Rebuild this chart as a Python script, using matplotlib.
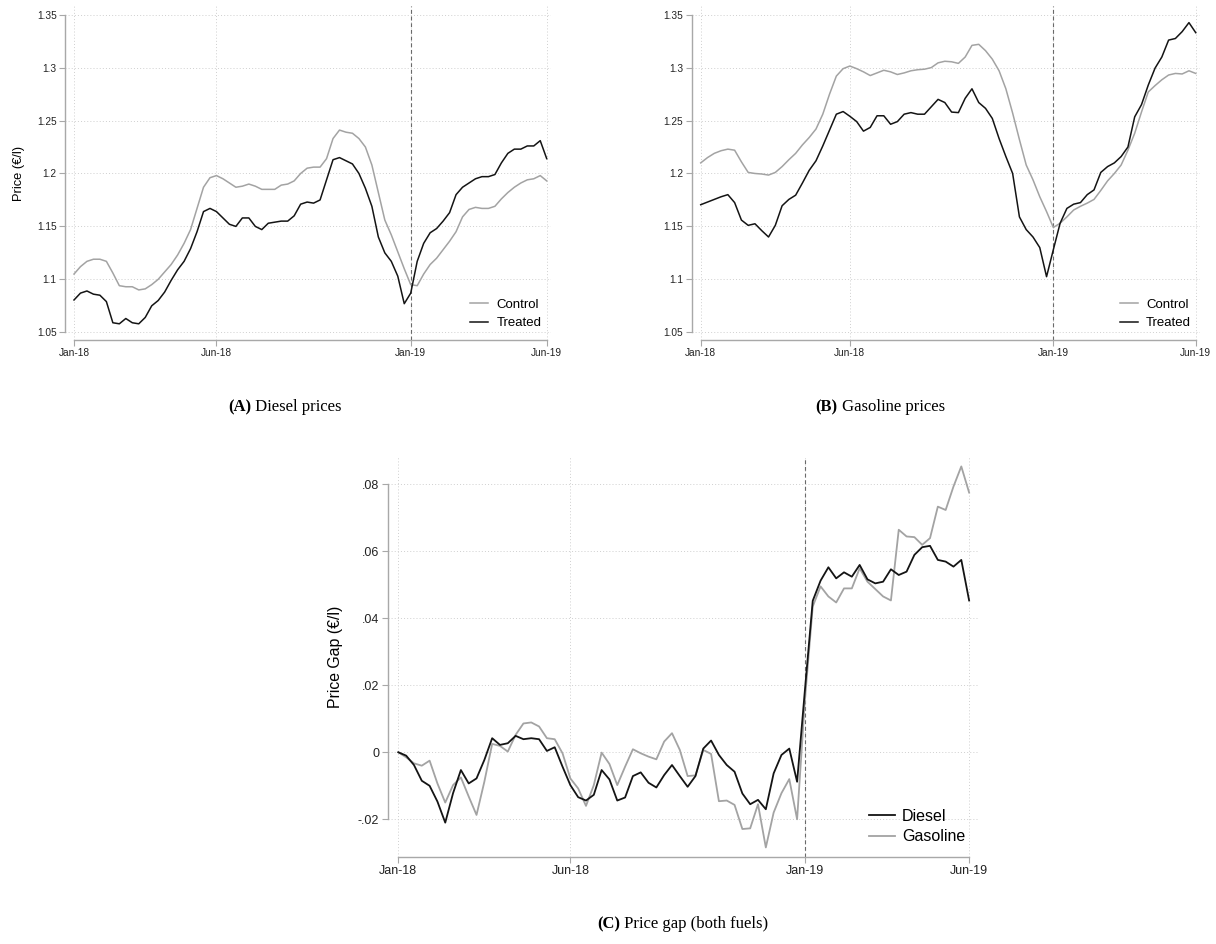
import numpy as np
import matplotlib
matplotlib.use("Agg")
import matplotlib.pyplot as plt

# ---------------- data ----------------
weeks = np.arange(74)  # weekly observations, Jan-18 .. Jun-19
xtick_pos = [0, 22, 52, 73]
xtick_labels = ["Jan-18", "Jun-18", "Jan-19", "Jun-19"]
treat_week = 52

diesel_control = [1.105, 1.112, 1.117, 1.119, 1.119, 1.117, 1.106, 1.094, 1.093, 1.093,
                  1.090, 1.091, 1.095, 1.100, 1.107, 1.114, 1.123, 1.134, 1.147, 1.167,
                  1.187, 1.196, 1.198, 1.195, 1.191, 1.187, 1.188, 1.190, 1.188, 1.185,
                  1.185, 1.185, 1.189, 1.190, 1.193, 1.200, 1.205, 1.206, 1.206, 1.214,
                  1.233, 1.241, 1.239, 1.238, 1.233, 1.225, 1.208, 1.182, 1.156, 1.142,
                  1.126, 1.110, 1.095, 1.094, 1.105, 1.114, 1.120, 1.128, 1.136, 1.145,
                  1.159, 1.166, 1.168, 1.167, 1.167, 1.169, 1.176, 1.182, 1.187, 1.191,
                  1.194, 1.195, 1.198, 1.193]
diesel_treated = [1.0805, 1.087, 1.089, 1.086, 1.085, 1.079, 1.059, 1.058, 1.063, 1.059,
                  1.058, 1.064, 1.075, 1.080, 1.088, 1.099, 1.109, 1.117, 1.129, 1.145,
                  1.164, 1.167, 1.164, 1.158, 1.152, 1.150, 1.158, 1.158, 1.150, 1.147,
                  1.153, 1.154, 1.155, 1.155, 1.160, 1.171, 1.173, 1.172, 1.175, 1.194,
                  1.213, 1.215, 1.212, 1.209, 1.200, 1.186, 1.169, 1.140, 1.125, 1.117,
                  1.103, 1.077, 1.087, 1.117, 1.134, 1.144, 1.148, 1.155, 1.163, 1.180,
                  1.187, 1.191, 1.195, 1.197, 1.197, 1.199, 1.210, 1.219, 1.223, 1.223,
                  1.226, 1.226, 1.231, 1.214]
gasoline_control = [1.210, 1.215, 1.219, 1.2215, 1.223, 1.222, 1.211, 1.201, 1.200, 1.1995,
                    1.1985, 1.201, 1.2065, 1.213, 1.219, 1.227, 1.234, 1.242, 1.256, 1.275,
                    1.292, 1.299, 1.3015, 1.299, 1.296, 1.2925, 1.295, 1.2975, 1.296, 1.2935,
                    1.295, 1.297, 1.298, 1.2985, 1.300, 1.3045, 1.306, 1.3055, 1.304, 1.310,
                    1.321, 1.322, 1.316, 1.308, 1.297, 1.280, 1.257, 1.232, 1.208, 1.194,
                    1.178, 1.164, 1.149, 1.153, 1.159, 1.1655, 1.169, 1.172, 1.1755, 1.184,
                    1.193, 1.200, 1.208, 1.222, 1.238, 1.258, 1.277, 1.283, 1.2885, 1.293,
                    1.2945, 1.294, 1.297, 1.2945]
gasoline_treated = [1.1705, 1.173, 1.1755, 1.178, 1.180, 1.1725, 1.156, 1.151, 1.1525, 1.146,
                    1.140, 1.151, 1.1695, 1.1755, 1.1795, 1.191, 1.203, 1.212, 1.226, 1.241,
                    1.256, 1.2585, 1.254, 1.249, 1.240, 1.2435, 1.2545, 1.2545, 1.2465, 1.249,
                    1.256, 1.2575, 1.256, 1.256, 1.263, 1.270, 1.267, 1.258, 1.2575, 1.271,
                    1.280, 1.267, 1.2615, 1.252, 1.233, 1.216, 1.200, 1.159, 1.147, 1.140,
                    1.130, 1.1025, 1.128, 1.153, 1.167, 1.171, 1.1725, 1.180, 1.1845, 1.201,
                    1.2065, 1.210, 1.216, 1.225, 1.2535, 1.265, 1.2835, 1.2995, 1.310, 1.326,
                    1.3275, 1.334, 1.3425, 1.333]
gap_diesel = [0.0, -0.001, -0.0038, -0.0085, -0.010, -0.0147, -0.021, -0.0122, -0.0053, -0.0093,
              -0.0078, -0.0023, 0.0042, 0.0022, 0.0027, 0.0049, 0.0039, 0.0042, 0.0039, 0.0004,
              0.0015, -0.0043, -0.0098, -0.0134, -0.0144, -0.0127, -0.0053, -0.0081, -0.0144, -0.0135,
              -0.0071, -0.006, -0.0091, -0.0105, -0.0068, -0.0038, -0.0071, -0.0103, -0.0071, 0.0011,
              0.0035, -0.0008, -0.0038, -0.0058, -0.0123, -0.0155, -0.0142, -0.017, -0.0063, -0.0008,
              0.0011, -0.0088, 0.0186, 0.0452, 0.0512, 0.0552, 0.0519, 0.0537, 0.0524, 0.0559,
              0.0516, 0.0504, 0.0509, 0.0546, 0.0529, 0.0539, 0.0589, 0.0612, 0.0616, 0.0574,
              0.0569, 0.0554, 0.0574, 0.0453]
gap_gasoline = [0.0, -0.0015, -0.0033, -0.004, -0.0025, -0.0093, -0.015, -0.0098, -0.0075, -0.0132,
                -0.0187, -0.0088, 0.0025, 0.0019, 0.0002, 0.0052, 0.0086, 0.0089, 0.0077, 0.0042,
                0.0039, -0.0003, -0.0078, -0.0108, -0.016, -0.0098, -0.0001, -0.0035, -0.0098, -0.0043,
                0.0009, -0.0003, -0.0013, -0.0021, 0.0032, 0.0057, 0.0007, -0.0071, -0.0069, 0.0007,
                -0.0005, -0.0146, -0.0144, -0.0157, -0.0229, -0.0227, -0.0155, -0.0284, -0.018, -0.0122,
                -0.008, -0.020, 0.0156, 0.0435, 0.0495, 0.0465, 0.0447, 0.0489, 0.0489, 0.0549,
                0.0509, 0.0487, 0.0465, 0.0453, 0.0664, 0.0644, 0.0642, 0.0619, 0.0639, 0.0733,
                0.0723, 0.0793, 0.0853, 0.0775]

price_ticks = [1.05, 1.10, 1.15, 1.20, 1.25, 1.30, 1.35]
price_tick_labels = ["1.05", "1.1", "1.15", "1.2", "1.25", "1.3", "1.35"]
gap_ticks = [-0.02, 0.0, 0.02, 0.04, 0.06, 0.08]
gap_tick_labels = ["-.02", "0", ".02", ".04", ".06", ".08"]

# ---------------- style ----------------
plt.rcParams['font.family'] = ['Liberation Sans', 'DejaVu Sans']
W, H = 1216, 944
fig = plt.figure(figsize=(W / 100, H / 100), dpi=100)
fig.patch.set_facecolor('white')

GREY = '#a3a3a3'
BLACK = '#141414'
SPINE = '#a8a8a8'
GRID = '#cfcfcf'


def px_axes(left, right, top, bottom):
    return fig.add_axes([left / W, 1 - bottom / H, (right - left) / W, (bottom - top) / H])


def style_axes(ax, yticks, ylabels, ybounds, tick_fs):
    for s in ['top', 'right']:
        ax.spines[s].set_visible(False)
    for s in ['left', 'bottom']:
        ax.spines[s].set_color(SPINE)
        ax.spines[s].set_linewidth(1.0)
    ax.spines['left'].set_bounds(*ybounds)
    ax.spines['bottom'].set_bounds(0, 73)
    ax.set_xticks(xtick_pos)
    ax.set_xticklabels(xtick_labels)
    ax.set_yticks(yticks)
    ax.set_yticklabels(ylabels)
    ax.tick_params(axis='x', length=4, width=0.8, color=SPINE, labelsize=tick_fs,
                   pad=2, labelcolor='#222222')
    ax.tick_params(axis='y', length=4, width=0.8, color=SPINE, labelsize=tick_fs,
                   pad=2, labelcolor='#222222')
    ax.grid(True, linestyle=(0, (1, 2.2)), color=GRID, linewidth=0.7)
    ax.set_axisbelow(True)
    ax.axvline(treat_week, color='#6a6a6a', linestyle=(0, (3.5, 2.5)), linewidth=0.8, zorder=1)


def caption(xc, y_base, bold, rest, fs=12):
    r = fig.canvas.get_renderer()
    tb = fig.text(0, 0, bold, fontsize=fs, fontweight='bold', family='Liberation Serif')
    tr = fig.text(0, 0, rest, fontsize=fs, family='Liberation Serif')
    wb = tb.get_window_extent(r).width
    wr = tr.get_window_extent(r).width
    x0 = xc - (wb + wr) / 2
    yb = 1 - y_base / H
    tb.set_position((x0 / W, yb))
    tr.set_position(((x0 + wb) / W, yb))
    tb.set_va('baseline')
    tr.set_va('baseline')


# ---------------- Panel A ----------------
axA = px_axes(65, 550.6, 6, 340)
axA.plot(weeks, diesel_control, color=GREY, lw=1.1, label='Control', zorder=3)
axA.plot(weeks, diesel_treated, color=BLACK, lw=1.1, label='Treated', zorder=4)
axA.set_xlim(-1.39, 73.6)
axA.set_ylim(1.0427, 1.3582)
style_axes(axA, price_ticks, price_tick_labels, (1.05, 1.35), 7.3)
axA.set_ylabel('Price (€/l)', fontsize=9.3, va='center')
axA.yaxis.set_label_coords(-0.094, 0.5)
axA.legend(loc='center left', bbox_to_anchor=(0.834, 0.078), frameon=False, fontsize=9.5,
           handlelength=1.4, handletextpad=0.6, borderpad=0, borderaxespad=0, labelspacing=0.45)

# ---------------- Panel B ----------------
axB = px_axes(691.7, 1199.8, 6, 340)
axB.plot(weeks, gasoline_control, color=GREY, lw=1.1, label='Control', zorder=3)
axB.plot(weeks, gasoline_treated, color=BLACK, lw=1.1, label='Treated', zorder=4)
axB.set_xlim(-1.33, 73.6)
axB.set_ylim(1.0427, 1.3582)
style_axes(axB, price_ticks, price_tick_labels, (1.05, 1.35), 7.3)
axB.legend(loc='center left', bbox_to_anchor=(0.842, 0.078), frameon=False, fontsize=9.5,
           handlelength=1.4, handletextpad=0.6, borderpad=0, borderaxespad=0, labelspacing=0.45)

# ---------------- Panel C ----------------
axC = px_axes(387.7, 978.5, 456.7, 856.7)
axC.plot(weeks, gap_diesel, color=BLACK, lw=1.3, label='Diesel', zorder=4)
axC.plot(weeks, gap_gasoline, color=GREY, lw=1.3, label='Gasoline', zorder=3)
axC.set_xlim(-1.36, 74.2)
axC.set_ylim(-0.03116, 0.0882)
style_axes(axC, gap_ticks, gap_tick_labels, (-0.02, 0.08), 9.0)
axC.set_ylabel('Price Gap (€/l)', fontsize=11.4, va='center')
axC.yaxis.set_label_coords(-0.089, 0.5)
axC.legend(loc='center left', bbox_to_anchor=(0.815, 0.075), frameon=False, fontsize=11.5,
           handlelength=1.6, handletextpad=0.45, borderpad=0, borderaxespad=0, labelspacing=0.35)

# ---------------- captions ----------------
caption(285, 411, '(A)', ' Diesel prices')
caption(880, 411, '(B)', ' Gasoline prices')
caption(683, 928, '(C)', ' Price gap (both fuels)')

fig.savefig('out.png', dpi=100, facecolor='white')
